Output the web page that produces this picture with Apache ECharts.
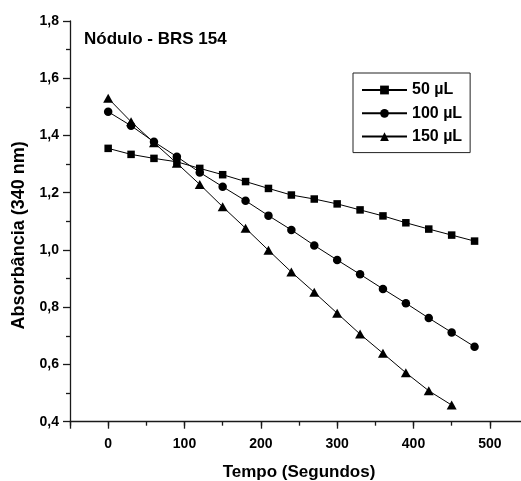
<!DOCTYPE html>
<html>
<head>
<meta charset="utf-8">
<script src="https://cdn.jsdelivr.net/npm/echarts@6/dist/echarts.min.js"></script>
<style>
html,body{margin:0;padding:0;background:#fff;}
#chart{width:521px;height:481px;}
</style>
</head>
<body>
<div id="chart"></div>
<script>
// Data (time in seconds, absorbance at 340 nm)
const timesA = [0, 30, 60, 90, 120, 150, 180, 210, 240, 270, 300, 330, 360, 390, 420, 450, 480];
const timesB = [0, 30, 60, 90, 120, 150, 180, 210, 240, 270, 300, 330, 360, 390, 420, 450];
const s50 = [1.355, 1.334, 1.320, 1.308, 1.285, 1.263, 1.239, 1.215, 1.192, 1.178, 1.161, 1.140, 1.119, 1.095, 1.073, 1.052, 1.031];
const s100 = [1.483, 1.434, 1.378, 1.326, 1.271, 1.221, 1.172, 1.120, 1.070, 1.016, 0.965, 0.915, 0.864, 0.814, 0.762, 0.712, 0.662];
const s150 = [1.530, 1.448, 1.375, 1.303, 1.229, 1.151, 1.076, 0.999, 0.923, 0.852, 0.779, 0.706, 0.639, 0.571, 0.508, 0.458];
const seriesNames = ['50 µL', '100 µL', '150 µL'];
const titleText = 'Nódulo - BRS 154';
const xName = 'Tempo (Segundos)';
const yName = 'Absorbância (340 nm)';

const FONT = '"Liberation Sans", Arial, sans-serif';
const pair = (xs, ys) => xs.map((x, i) => [x, ys[i]]);

const chart = echarts.init(document.getElementById('chart'), null, {renderer: 'canvas'});
const axisLineStyle = {color: '#1a1a1a', width: 1.3};
const baseSeries = {
  type: 'line',
  xAxisIndex: 0,
  yAxisIndex: 0,
  lineStyle: {color: '#000', width: 1},
  itemStyle: {color: '#000'},
  emphasis: {disabled: true},
  animation: false
};
chart.setOption({
  backgroundColor: '#fff',
  animation: false,
  title: {
    text: titleText,
    left: 84,
    top: 31,
    padding: 0,
    textStyle: {fontFamily: FONT, fontWeight: 'bold', fontSize: 17, color: '#000'}
  },
  legend: {
    orient: 'vertical',
    left: 353,
    top: 73,
    padding: [9, 8, 8, 8],
    borderColor: '#222',
    borderWidth: 1,
    itemWidth: 45,
    itemHeight: 11,
    itemGap: 7.3,
    selectedMode: false,
    textStyle: {fontFamily: FONT, fontWeight: 'bold', fontSize: 16, color: '#000', lineHeight: 16},
    data: seriesNames
  },
  grid: {left: 70, width: 458, top: 21, height: 400.7, containLabel: false, outerBoundsMode: 'none'},
  xAxis: [{
    type: 'value',
    min: -50, max: 550, interval: 50,
    position: 'bottom',
    axisLine: {show: true, onZero: false, lineStyle: axisLineStyle},
    axisTick: {show: true, inside: false, length: 4, lineStyle: axisLineStyle},
    axisLabel: {show: false},
    splitLine: {show: false},
    name: xName,
    nameLocation: 'middle',
    nameGap: 42,
    nameTextStyle: {fontFamily: FONT, fontWeight: 'bold', fontSize: 17, color: '#000'}
  }, {
    type: 'value',
    min: -50, max: 550, minInterval: 100, maxInterval: 100,
    position: 'bottom',
    axisLine: {show: false, onZero: false},
    axisTick: {show: true, inside: false, length: 7, lineStyle: axisLineStyle},
    axisLabel: {
      show: true, margin: 15,
      fontFamily: FONT, fontWeight: 'bold', fontSize: 14, color: '#000',
      formatter: v => (Math.abs(v % 100) < 1e-9 && v >= 0 && v <= 500) ? String(v) : ''
    },
    splitLine: {show: false}
  }],
  yAxis: [{
    type: 'value',
    min: 0.4, max: 1.8, interval: 0.2,
    axisLine: {show: true, onZero: false, lineStyle: axisLineStyle},
    axisTick: {show: true, inside: false, length: 7, lineStyle: axisLineStyle},
    minorTick: {show: true, splitNumber: 2, length: 4, lineStyle: axisLineStyle},
    axisLabel: {
      margin: 11,
      fontFamily: FONT, fontWeight: 'bold', fontSize: 14, color: '#000',
      formatter: v => v.toFixed(1).replace('.', ',')
    },
    splitLine: {show: false},
    name: yName,
    nameLocation: 'middle',
    nameGap: 42,
    nameRotate: 90,
    nameTextStyle: {fontFamily: FONT, fontWeight: 'bold', fontSize: 18, color: '#000', padding: [0, 28, 0, 0]}
  }],
  series: [
    Object.assign({}, baseSeries, {name: seriesNames[0], symbol: 'rect', symbolSize: 7.5, data: pair(timesA, s50), z: 2}),
    Object.assign({}, baseSeries, {name: seriesNames[1], symbol: 'circle', symbolSize: 8.5, data: pair(timesA, s100), z: 3}),
    Object.assign({}, baseSeries, {name: seriesNames[2], symbol: 'triangle', symbolSize: [10, 9], data: pair(timesB, s150), z: 4})
  ]
});
</script>
</body>
</html>
